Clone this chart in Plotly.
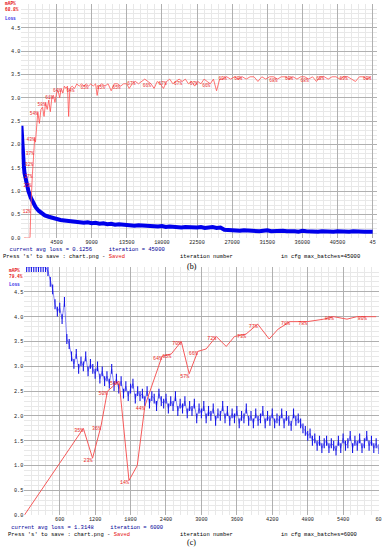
import plotly.graph_objects as go

# ---------------- data: chart (b) ----------------
loss_b_iter = [0, 50, 100, 150, 200, 300, 400, 500, 700, 900, 1200, 1500, 1800, 2200, 2600,
               3000, 3500, 4000, 4500, 5000, 5500] + list(range(6000, 45001, 500))
loss_b_val = [2.40, 2.20, 2.00, 1.80, 1.72, 1.55, 1.38, 1.28, 1.12, 1.00, 0.86, 0.74, 0.66, 0.58, 0.53,
              0.48, 0.45, 0.42, 0.40, 0.38, 0.37,
              0.36, 0.34, 0.35, 0.33, 0.32, 0.33, 0.31, 0.32, 0.30, 0.31,
              0.29, 0.30, 0.28, 0.29, 0.28, 0.27, 0.28, 0.26, 0.27, 0.26,
              0.25, 0.26, 0.25, 0.24, 0.25, 0.23, 0.24, 0.23, 0.24, 0.22,
              0.23, 0.22, 0.23, 0.22, 0.23, 0.21, 0.22, 0.23, 0.21, 0.22,
              0.17, 0.16, 0.17, 0.16, 0.15, 0.16, 0.15, 0.16, 0.15, 0.14,
              0.15, 0.16, 0.14, 0.15, 0.14, 0.15, 0.14, 0.15, 0.14, 0.13,
              0.15, 0.14, 0.13, 0.14, 0.13, 0.14, 0.13, 0.14, 0.13, 0.14,
              0.13, 0.12, 0.13, 0.14, 0.13, 0.12, 0.13, 0.13, 0.13]

map_b = [(1000, 0), (1100, 0), (1200, 12), (1300, 23), (1400, 27), (1500, 32), (1600, 37), (1700, 43),
         (1800, 41), (1900, 46), (2000, 50), (2100, 54), (2300, 49), (2500, 55), (2700, 56), (2900, 52),
         (3100, 58), (3300, 55), (3500, 59), (3700, 54), (3900, 60), (4100, 61), (4300, 58), (4500, 62),
         (4700, 63), (4900, 60), (5100, 64), (5300, 62), (5500, 65), (5700, 64), (5900, 65), (6050, 52),
         (6200, 64), (6500, 65), (6800, 64), (7100, 66), (7400, 65), (7700, 66), (8000, 65), (8300, 66),
         (8600, 65), (8900, 66), (9200, 65), (9500, 66), (9700, 61), (9900, 65), (10300, 66), (10700, 65),
         (11100, 66), (11500, 63), (11900, 66), (12300, 66), (12700, 65), (13100, 66), (13500, 66),
         (13800, 64), (14200, 66), (14600, 67), (15000, 66), (15400, 67), (15800, 68), (16200, 67),
         (16600, 66), (17000, 64), (17400, 67), (17800, 66), (18200, 64), (18600, 67), (19000, 68),
         (19400, 66), (19800, 67), (20200, 68), (20600, 67), (21000, 68), (21400, 66), (21800, 67),
         (22200, 65), (22600, 67), (23000, 66), (23400, 68), (23800, 67), (24200, 66), (24600, 68),
         (25000, 63), (25400, 68), (25800, 68), (26300, 69), (26800, 68), (27300, 69), (27800, 68),
         (28300, 69), (28800, 68), (29300, 69), (29800, 69), (30300, 67), (30800, 69), (31300, 68),
         (31800, 69), (32300, 69), (32800, 68), (33300, 69), (33800, 69), (34300, 68), (34800, 69),
         (35300, 68), (35800, 69), (36300, 69), (36800, 68), (37300, 69), (37800, 67), (38300, 69),
         (38800, 69), (39300, 68), (39800, 69), (40300, 69), (40800, 68), (41300, 69), (41800, 69),
         (42300, 68), (42800, 67), (43300, 69), (43800, 69), (44300, 68), (44800, 69)]
map_b_label_iters = [1000, 1200, 1300, 1400, 1500, 1600, 1700, 2100, 3100, 4100, 5100, 6800, 8600,
                     10700, 12700, 14600, 16600, 18600, 20600, 22600, 24200, 26300, 28300, 32800,
                     34800, 36800, 38800, 41800, 44800]
x_ticks_b = [4500, 9000, 13500, 18000, 22500, 27000, 31500, 36000, 40500, 45000]
x_ticktext_b = ["4500", "9000", "13500", "18000", "22500", "27000", "31500", "36000", "40500", "45"]
best_map_b = "68.8%"
avg_loss_b = "0.1256"
max_batches_b = 45000

# ---------------- data: chart (c) ----------------
loss_c_iter = list(range(40, 6001, 40))
loss_c_val = [5.0, 5.0, 5.0, 5.0, 5.0, 5.0, 5.0, 5.0, 5.0,
              4.92, 4.70, 4.55, 4.25, 4.10, 4.18, 3.95, 4.30, 3.55, 3.45,
              3.20, 3.05, 3.25, 2.95, 3.10, 3.00, 3.20, 2.90, 3.05, 2.95,
              2.85, 3.00, 2.75, 2.90, 2.70, 2.80, 2.65, 2.95, 2.60, 2.75,
              2.55, 2.70, 2.45, 2.60, 2.40, 2.55, 2.65, 2.35, 2.50, 2.40,
              2.45, 2.30, 2.50, 2.25, 2.40, 2.35, 2.20, 2.45, 2.30, 2.25,
              2.35, 2.15, 2.30, 2.20, 2.40, 2.10, 2.25, 2.15, 2.30, 2.05,
              2.20, 2.10, 2.25, 1.95, 2.15, 2.05, 2.20, 1.95, 2.10, 2.00,
              2.15, 1.90, 2.05, 2.00, 2.20, 1.95, 2.10, 1.90, 2.05, 1.95,
              2.10, 1.85, 2.00, 1.95, 2.15, 1.90, 2.00, 1.85, 2.05, 1.90,
              1.95, 2.10, 1.85, 2.00, 1.90, 2.05, 1.85, 1.95, 1.90, 2.05,
              1.85, 2.00, 1.90, 1.80, 2.05, 1.90, 1.95, 1.85, 1.75, 1.70,
              1.60, 1.65, 1.50, 1.55, 1.40, 1.50, 1.35, 1.45, 1.50, 1.35,
              1.45, 1.40, 1.30, 1.50, 1.35, 1.55, 1.40, 1.45, 1.60, 1.35,
              1.50, 1.40, 1.55, 1.35, 1.45, 1.60, 1.40, 1.50, 1.35, 1.45,
              1.33]

map_c_iter = [0, 1000, 1156, 1300, 1408, 1605, 1773, 1913, 2042, 2332, 2490, 2659, 2793, 2938, 3080,
              3252, 3420, 3560, 3756, 3953, 4148, 4299, 4501, 4793, 5073, 5241, 5465, 5633, 5800, 5960]
map_c_val = [0, 35, 23, 36, 50, 54, 14, 20, 44, 64, 65, 70, 57, 66, 67,
             72, 68, 72, 73, 77, 71, 75, 78, 78, 79, 80, 79, 80, 80, 80]
map_c_label_iters = [1000, 1156, 1300, 1408, 1605, 1773, 2042, 2332, 2490, 2659, 2793, 2938,
                     3252, 3756, 3953, 4501, 4793, 5241, 5800]
x_ticks_c = [600, 1200, 1800, 2400, 3000, 3600, 4200, 4800, 5400, 6000]
x_ticktext_c = ["600", "1200", "1800", "2400", "3000", "3600", "4200", "4800", "5400", "60"]
best_map_c = "79.4%"
avg_loss_c = "1.3148"
max_batches_c = 6000

y_ticks = [0, 0.5, 1.0, 1.5, 2.0, 2.5, 3.0, 3.5, 4.0, 4.5, 5.0]
y_ticktext = ["0.0", "0.5", "1.0", "1.5", "2.0", "2.5", "3.0", "3.5", "4.0", "4.5", ""]

assert len(loss_b_iter) == len(loss_b_val)
assert len(loss_c_iter) == len(loss_c_val)
assert len(map_c_iter) == len(map_c_val)

# ---------------- figure ----------------
W, H = 386, 550
MONO = "Liberation Mono"
NB = "\u00a0"
RED = "rgb(230,20,20)"
NAVY = "rgb(0,0,150)"


def pxx(x):
    return x / W


def pyy(y):
    return 1 - y / H


def labels_for(iters, vals, label_iters):
    return [f"{v}%" if it in label_iters else "" for it, v in zip(iters, vals)]


fig = go.Figure()

# chart (b)
fig.add_trace(go.Scatter(x=loss_b_iter, y=loss_b_val, xaxis="x", yaxis="y", mode="lines",
                         line=dict(color="rgb(0,0,235)", width=4), hoverinfo="skip", showlegend=False))
mb_it = [p[0] for p in map_b]
mb_v = [p[1] for p in map_b]
fig.add_trace(go.Scatter(x=mb_it, y=mb_v, xaxis="x", yaxis="y2", mode="lines+text",
                         text=labels_for(mb_it, mb_v, map_b_label_iters), textposition="bottom left",
                         textfont=dict(family=MONO, size=4.5, color="rgb(235,30,30)"),
                         line=dict(color="rgb(255,80,80)", width=0.8), hoverinfo="skip", showlegend=False))

# chart (c)
fig.add_trace(go.Scatter(x=loss_c_iter, y=loss_c_val, xaxis="x2", yaxis="y3", mode="lines+markers",
                         line=dict(color="rgb(60,60,245)", width=0.6),
                         marker=dict(color="rgb(20,20,230)", size=7, symbol="line-ns",
                                     line=dict(color="rgb(20,20,230)", width=1.1)),
                         hoverinfo="skip", showlegend=False))
fig.add_trace(go.Scatter(x=map_c_iter, y=map_c_val, xaxis="x2", yaxis="y4", mode="lines+text",
                         text=labels_for(map_c_iter, map_c_val, map_c_label_iters), textposition="bottom left",
                         textfont=dict(family=MONO, size=5, color="rgb(235,30,30)"),
                         line=dict(color="rgb(245,90,90)", width=1), hoverinfo="skip", showlegend=False))

grid_major = "#b0b0b0"
grid_minor = "#e8e8e8"
tickfont = dict(family=MONO, size=5.2, color="#222")


def xaxis_cfg(domain, rng, tickvals, ticktext, minor_dtick, anchor):
    return dict(domain=domain, range=rng, tickmode="array", tickvals=[0] + tickvals, ticktext=[""] + ticktext,
                showgrid=True, gridcolor=grid_major, gridwidth=1, zeroline=False, showline=False, ticks="",
                tickfont=tickfont, anchor=anchor, fixedrange=True,
                minor=dict(tickmode="linear", tick0=0, dtick=minor_dtick, showgrid=True, gridcolor=grid_minor))


def yaxis_cfg(domain, anchor):
    return dict(domain=domain, range=[0, 5], tickmode="array", tickvals=y_ticks, ticktext=y_ticktext,
                showgrid=True, gridcolor=grid_major, gridwidth=1, zeroline=False, showline=False, ticks="",
                tickfont=tickfont, anchor=anchor, fixedrange=True,
                minor=dict(tickmode="linear", tick0=0, dtick=0.1, showgrid=True, gridcolor=grid_minor))


b_left, b_right, b_top, b_bot = 21.6, 379.5, 4.5, 239.5
c_left, c_right, c_top, c_bot = 24.5, 381.5, 269.0, 519.0

fig.update_layout(
    width=W, height=H, margin=dict(l=0, r=0, t=0, b=0),
    paper_bgcolor="white", plot_bgcolor="white", showlegend=False,
    xaxis=xaxis_cfg([pxx(b_left), pxx(b_right)], [0, 45500], x_ticks_b, x_ticktext_b, 900, "y"),
    yaxis=yaxis_cfg([pyy(b_bot), pyy(b_top)], "x"),
    yaxis2=dict(overlaying="y", range=[0, 100], visible=False, anchor="x", fixedrange=True),
    xaxis2=xaxis_cfg([pxx(c_left), pxx(c_right)], [0, 6000], x_ticks_c, x_ticktext_c, 120, "y3"),
    yaxis3=yaxis_cfg([pyy(c_bot), pyy(c_top)], "x2"),
    yaxis4=dict(overlaying="y3", range=[0, 100], visible=False, anchor="x2", fixedrange=True),
)

ann = []


def text(x, y, s, color="black", size=5.5, family=MONO, anchor="left"):
    ann.append(dict(x=pxx(x), y=pyy(y), xref="paper", yref="paper", text=s, showarrow=False,
                    xanchor=anchor, yanchor="middle", align="left", borderpad=0,
                    font=dict(family=family, size=size, color=color)))


charts = [
    # legend x, legend y, best map, avg loss, max batches, text x, indent, text y, caption y, caption
    (4, 6.5, best_map_b, avg_loss_b, max_batches_b, 2, 2, 254.5, 268.0, "(b)"),
    (8, 275.0, best_map_c, avg_loss_c, max_batches_c, 7, 1, 534.5, 546.5, "(c)"),
]
for (lx, ly, best, loss, iters, tx, indent, ty, cy, cap) in charts:
    text(lx, ly, f"<b>mAP%<br>{best}</b>", RED, 4.5)
    text(lx, ly + 12.0, "<b>Loss</b>", "rgb(40,40,230)", 4.5)
    block = (NB * indent + f"<span style='color:{NAVY}'>current avg loss = {loss}" + NB * 5
             + f"iteration = {iters}</span><br>"
             + f"Press 's' to save : chart.png - <span style='color:{RED}'>Saved</span>")
    text(tx, ty, block, "black", 5.5)
    text(180, ty + 3.6, "iteration number", "black", 5.5)
    text(282, ty + 3.6, f"in cfg max_batches={iters}", "black", 5.5)
    text(187, cy, cap, "black", 8, "Liberation Serif")

fig.update_layout(annotations=ann)
fig.write_html("out.html", config={"displayModeBar": False},
               post_script="document.body.style.margin='0px';document.body.style.overflow='hidden';")
